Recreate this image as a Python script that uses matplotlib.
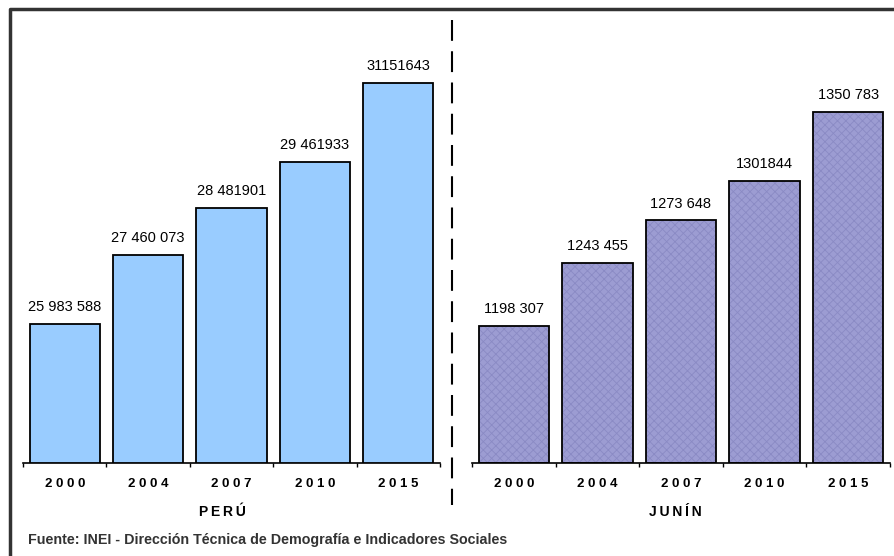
import matplotlib
matplotlib.use("Agg")
import matplotlib.pyplot as plt
from matplotlib.lines import Line2D

# data
years = ["2000", "2004", "2007", "2010", "2015"]
peru = [25983588, 27460073, 28481901, 29461933, 31151643]
peru_labels = ["25 983 588", "27 460 073", "28 481901", "29 461933", "31151643"]
junin = [1198307, 1243455, 1273648, 1301844, 1350783]
junin_labels = ["1198 307", "1243 455", "1273 648", "1301844", "1350 783"]

plt.rcParams["font.family"] = ["Liberation Sans", "DejaVu Sans"]
plt.rcParams["hatch.linewidth"] = 0.6

W, H = 895, 556
fig = plt.figure(figsize=(W / 100, H / 100), dpi=100)


def px_axes(x0, x1, y_top, y_bot):
    return fig.add_axes([x0 / W, 1 - y_bot / H, (x1 - x0) / W, (y_bot - y_top) / H])


def draw_panel(ax, values, labels, ylim, color, hatch=None):
    x = list(range(len(values)))
    bottom = ylim[0]
    heights = [v - bottom for v in values]
    if hatch:
        ax.bar(x, heights, bottom=bottom, width=0.84, color=color,
               hatch=hatch, edgecolor="#8a8ac4", linewidth=0, zorder=2)
        ax.bar(x, heights, bottom=bottom, width=0.84, fill=False,
               edgecolor="black", linewidth=1.3, zorder=3)
    else:
        ax.bar(x, heights, bottom=bottom, width=0.84, color=color,
               edgecolor="black", linewidth=1.3, zorder=3)
    for xi, v, lab in zip(x, values, labels):
        ax.annotate(lab, (xi, v), xytext=(0, 7), textcoords="offset points",
                    ha="center", va="bottom", fontsize=10.5)
    ax.set_xlim(-0.5, len(values) - 0.5)
    ax.set_ylim(*ylim)
    for s in ["top", "right", "left"]:
        ax.spines[s].set_visible(False)
    ax.spines["bottom"].set_linewidth(1.2)
    ax.set_yticks([])
    ax.set_xticks(x)
    ax.set_xticklabels([" ".join(y) for y in years], fontsize=9.5, fontweight="bold")
    ax.tick_params(axis="x", which="major", length=0, pad=11)
    ax.set_xticks([i - 0.5 for i in range(len(values) + 1)], minor=True)
    ax.tick_params(axis="x", which="minor", length=3, width=1, direction="out")


ax1 = px_axes(23, 440, 30, 463)
draw_panel(ax1, peru, peru_labels, (23002688, 32288556), "#99ccff")

ax2 = px_axes(472, 890, 30, 463)
draw_panel(ax2, junin, junin_labels, (1100694, 1409208), "#9c9cd2", hatch="xxxx")

fig.text(222 / W, 1 - 512 / H, "P E R Ú".replace(" ", "\u2009"), ha="center", va="center",
         fontsize=10, fontweight="bold")
fig.text(675 / W, 1 - 512 / H, "J U N Í N".replace(" ", "\u2009"), ha="center", va="center",
         fontsize=10, fontweight="bold")
fig.text(28 / W, 1 - 540 / H, "Fuente: INEI - Dirección Técnica de Demografía e Indicadores Sociales",
         ha="left", va="center", fontsize=10.3, fontweight="bold", color="#333333")

# dashed separator and outer frame
fig.add_artist(Line2D([452 / W, 452 / W], [1 - 20 / H, 1 - 505 / H], color="black",
                      linewidth=1.5, linestyle=(0, (10, 5))))
fig.add_artist(Line2D([10 / W, 10 / W, 1], [0, 1 - 9 / H, 1 - 9 / H], color="#333333",
                      linewidth=2.5))

fig.savefig("out.png", dpi=100)
